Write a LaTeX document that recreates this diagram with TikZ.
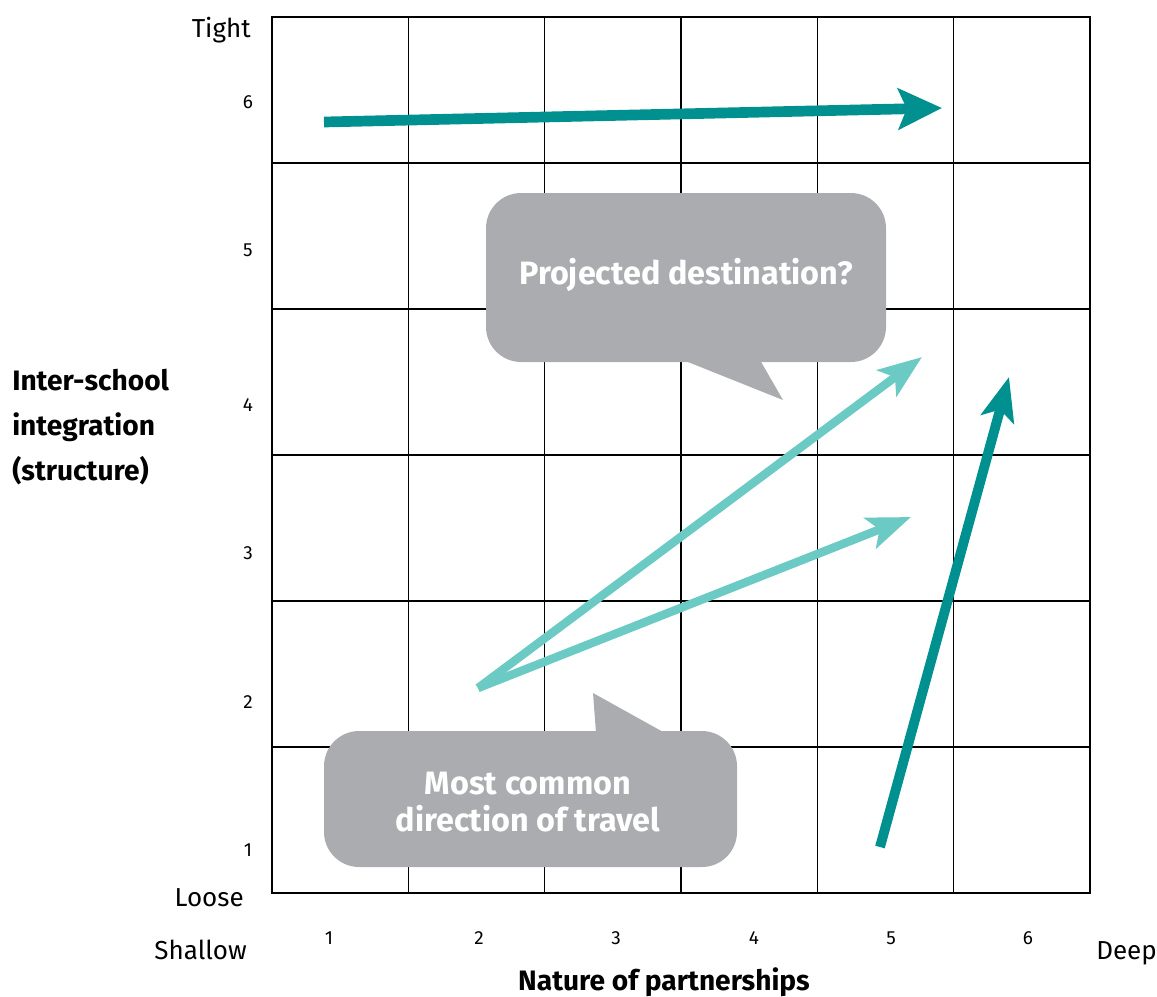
\documentclass[tikz,border=0pt]{standalone}
\usepackage{fontspec}
\setmainfont{Fira Sans}
\usepackage{tikz}
\usetikzlibrary{arrows.meta}

\definecolor{tealdark}{HTML}{00908F}
\definecolor{teallight}{HTML}{6BCAC4}
\definecolor{calloutgray}{HTML}{ABACAF}

\tikzset{
  gridline/.style={draw=black, line width=1.1pt},
  axislabel/.style={font=\fontsize{18.5}{22}\selectfont, inner sep=0pt},
  ticklabel/.style={font=\fontsize{13.5}{16}\selectfont, inner sep=0pt},
  axistitle/.style={font=\fontsize{20}{32}\selectfont\bfseries, inner sep=0pt},
  bubble/.style={fill=calloutgray, rounded corners=25pt, inner sep=0pt},
  bubbletext/.style={text=white, font=\fontsize{23}{26}\selectfont\bfseries, align=center, inner sep=0pt},
  darkarrow/.style={draw=tealdark, line width=7.6pt, -{Stealth[length=31pt, width=29pt, inset=6pt]}},
  lightarrow/.style={draw=teallight, line width=6pt, -{Stealth[length=31pt, width=23pt, inset=7pt]}},
  uparrow/.style={draw=tealdark, line width=7pt, -{Stealth[length=31pt, width=24pt, inset=7pt]}}
}

\begin{document}
\begin{tikzpicture}[x=0.025cm, y=-0.025cm]
  \useasboundingbox (0,0) rectangle (1157,996);

  \draw[gridline] (272,17) rectangle (1090,893);
  \foreach \gx in {408.3,544.7,681,817.3,953.7}
    \draw[gridline] (\gx,17) -- (\gx,893);
  \foreach \gy in {163,309,455,601,747}
    \draw[gridline] (272,\gy) -- (1090,\gy);

  \node[bubble, minimum width=400*0.025cm, minimum height=169*0.025cm] (destbox) at (686,277.5) {};
  \fill[calloutgray] (683,360) -- (783,400) -- (760,360) -- cycle;
  \node[bubbletext] (desttext) at (686,275) {Projected destination?};

  \node[bubble, minimum width=413*0.025cm, minimum height=136*0.025cm] (travelbox) at (530.5,799) {};
  \fill[calloutgray] (596,733) -- (593,693) -- (665,733) -- cycle;
  \node[bubbletext] (traveltext) at (528,802) {Most common\\direction of travel};

  \coordinate (topstart) at (324,122);
  \coordinate (topend) at (942,108);
  \coordinate (fanstart) at (478,688);
  \coordinate (fanhigh) at (922,357);
  \coordinate (fanlow) at (911,517);
  \coordinate (risestart) at (880,847);
  \coordinate (riseend) at (1009,377);

  \draw[darkarrow] (topstart) -- (topend);
  \draw[lightarrow] (fanstart) -- (fanhigh);
  \draw[lightarrow, line cap=butt] (fanstart) -- (fanlow);
  \draw[uparrow] (risestart) -- (riseend);

  \node[axislabel, anchor=east] (tight) at (251,30) {Tight};
  \node[axislabel, anchor=east] (loose) at (244,898) {Loose};
  \node[axislabel, anchor=east] (shallow) at (247,950) {Shallow};
  \node[axislabel, anchor=west] (deep) at (1096,953) {Deep};

  \node[ticklabel] (ysix) at (248,102) {6};
  \node[ticklabel] (yfive) at (248,250) {5};
  \node[ticklabel] (yfour) at (248,405) {4};
  \node[ticklabel] (ythree) at (248,553) {3};
  \node[ticklabel] (ytwo) at (248,702) {2};
  \node[ticklabel] (yone) at (248,850) {1};

  \node[ticklabel] (xone) at (329,938) {1};
  \node[ticklabel] (xtwo) at (479,938) {2};
  \node[ticklabel] (xthree) at (616,938) {3};
  \node[ticklabel] (xfour) at (754,938) {4};
  \node[ticklabel] (xfive) at (891,938) {5};
  \node[ticklabel] (xsix) at (1028,938) {6};

  \node[axistitle, anchor=west, align=left] (ytitle) at (12,427) {Inter-school\\integration\\(structure)};
  \node[axistitle] (xtitle) at (664,982) {Nature of partnerships};
\end{tikzpicture}
\end{document}
